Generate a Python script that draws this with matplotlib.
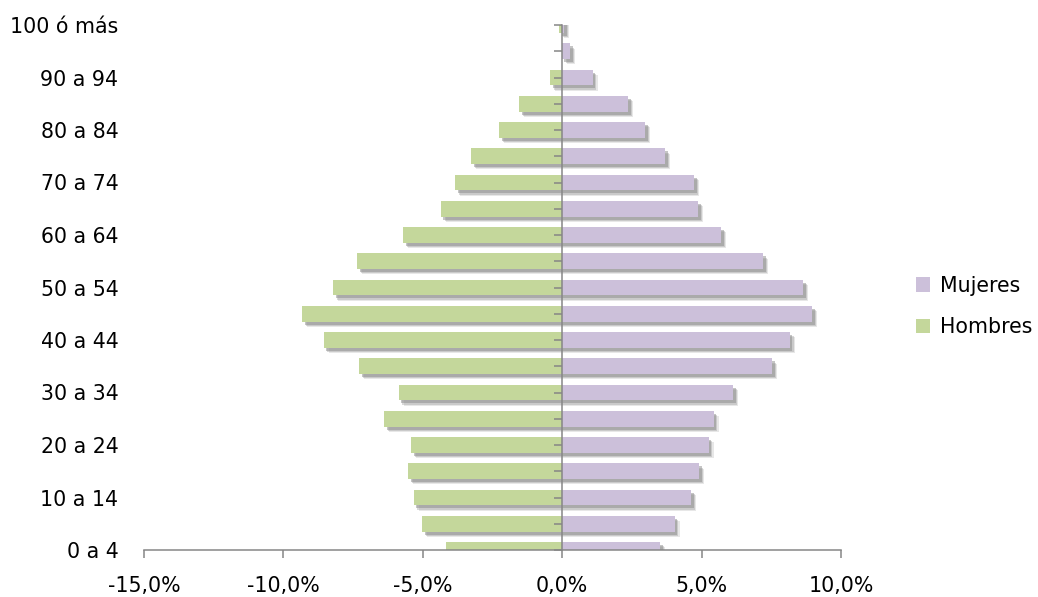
import matplotlib
matplotlib.use("Agg")
import matplotlib.pyplot as plt
import matplotlib.patheffects as pe
from matplotlib.patches import Patch
from matplotlib.ticker import FuncFormatter

# ---- data (percent of population) ----
categories = ["0 a 4", "5 a 9", "10 a 14", "15 a 19", "20 a 24", "25 a 29",
              "30 a 34", "35 a 39", "40 a 44", "45 a 49", "50 a 54", "55 a 59",
              "60 a 64", "65 a 69", "70 a 74", "75 a 79", "80 a 84", "85 a 89",
              "90 a 94", "95 a 99", "100 ó más"]
hombres = [4.15, 5.02, 5.33, 5.52, 5.41, 6.39, 5.87, 7.28, 8.56, 9.34, 8.22,
           7.37, 5.70, 4.36, 3.84, 3.26, 2.25, 1.54, 0.43, 0.02, 0.10]
mujeres = [3.51, 4.03, 4.61, 4.90, 5.25, 5.43, 6.13, 7.54, 8.16, 8.96, 8.64,
           7.20, 5.69, 4.87, 4.72, 3.70, 2.96, 2.37, 1.09, 0.27, 0.08]
x_ticks = [-15, -10, -5, 0, 5, 10]

c_h = "#C4D79B"
c_m = "#CCC0DA"
axis_gray = "#868686"

plt.rcParams["font.family"] = ["DejaVu Sans"]
FS = 14.8

fig = plt.figure(figsize=(10.38, 5.97), dpi=100)
ax = fig.add_axes([144 / 1038, 1 - 550 / 597, (841 - 144) / 1038, (550 - 25) / 597])

ypos = list(range(len(categories)))
shadow = [pe.SimplePatchShadow(offset=(3.6, -3.8), shadow_rgbFace="#b0b0b0", alpha=0.30),
          pe.SimplePatchShadow(offset=(2.8, -3.0), shadow_rgbFace="#a0a0a0", alpha=0.40),
          pe.SimplePatchShadow(offset=(2.0, -2.2), shadow_rgbFace="#8c8c8c", alpha=0.50),
          pe.Normal()]

bh = ax.barh(ypos, [-v for v in hombres], height=0.6, color=c_h, zorder=2)
bm = ax.barh(ypos, mujeres, height=0.6, color=c_m, zorder=2)
for b in list(bh) + list(bm):
    b.set_path_effects(shadow)

xmin, xmax = x_ticks[0], x_ticks[-1]
ax.set_xlim(xmin, xmax)
ax.set_ylim(0, len(categories) - 1)

ax.set_xticks(x_ticks)
ax.xaxis.set_major_formatter(FuncFormatter(lambda v, p: f"{v:.1f}%".replace(".", ",")))
ax.set_yticks(ypos[::2])
ax.set_yticklabels(categories[::2])

for s in ["top", "right", "left"]:
    ax.spines[s].set_visible(False)
ax.spines["bottom"].set_color(axis_gray)
ax.spines["bottom"].set_linewidth(1.1)
ax.tick_params(axis="x", direction="out", length=6, width=1.1, color=axis_gray,
               labelsize=FS, pad=13)
ax.tick_params(axis="y", length=0, labelsize=FS, pad=18.5)

# vertical category axis at x = 0
loc = (0 - xmin) / (xmax - xmin)
sec = ax.secondary_yaxis(loc)
sec.set_zorder(5)
sec.set_alignment("left")
sec.set_yticks(ypos)
sec.set_yticklabels([])
sec.spines["left"].set_color(axis_gray)
sec.spines["left"].set_linewidth(1.1)
sec.tick_params(axis="y", direction="out", length=6, width=1.1, color=axis_gray)

handles = [Patch(facecolor=c_m, edgecolor="none", label="Mujeres"),
           Patch(facecolor=c_h, edgecolor="none", label="Hombres")]
fig.legend(handles=handles, loc="center left", bbox_to_anchor=(916 / 1038, 1 - 306.5 / 597),
           frameon=False, fontsize=FS, handlelength=0.7, handleheight=0.7,
           handletextpad=0.45, labelspacing=1.05, borderpad=0, borderaxespad=0)

fig.savefig("out.png", dpi=100)
